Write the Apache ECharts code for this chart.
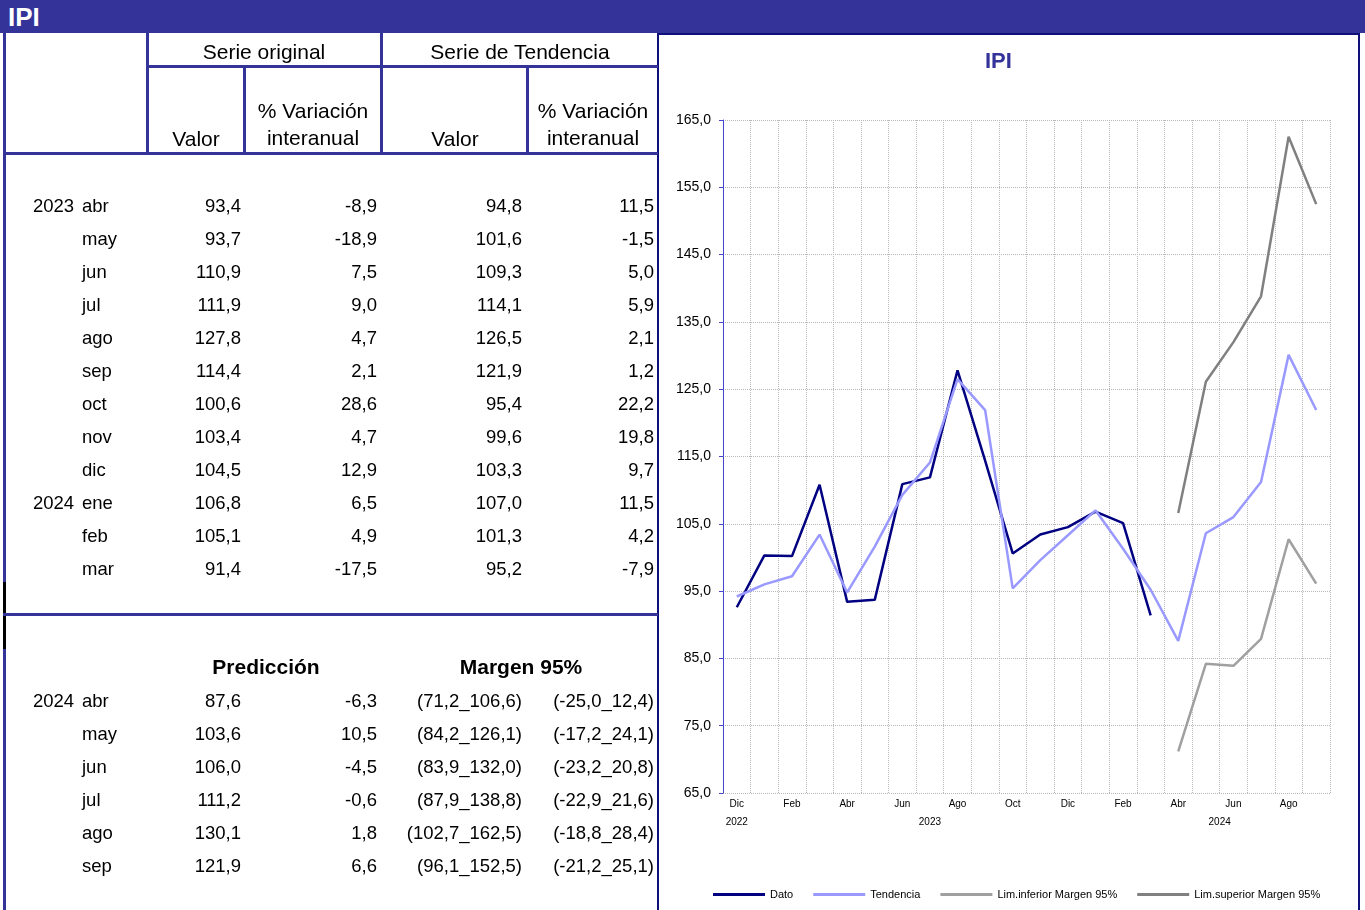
<!DOCTYPE html>
<html><head><meta charset="utf-8">
<script src="https://cdn.jsdelivr.net/npm/echarts@6/dist/echarts.min.js"></script>
<style>
html,body{margin:0;padding:0;background:#fff;width:1365px;height:910px;overflow:hidden;font-family:"Liberation Sans",Arial,sans-serif;}
#chart{position:absolute;left:0;top:0;width:1365px;height:910px;}
#overlay{position:absolute;left:0;top:0;width:1365px;height:910px;pointer-events:none;}
.t{position:absolute;white-space:nowrap;color:#000;height:30px;line-height:30px;}
.r{position:absolute;}
</style></head><body>
<div id="chart"></div>
<div id="overlay"></div>
<script>
// ---------- chart data ----------
const categories = ['Dic','Ene','Feb','Mar','Abr','May','Jun','Jul','Ago','Sep','Oct','Nov','Dic','Ene','Feb','Mar','Abr','May','Jun','Jul','Ago','Sep'];
const categoryYears = ['2022','2023','2023','2023','2023','2023','2023','2023','2023','2023','2023','2023','2023','2024','2024','2024','2024','2024','2024','2024','2024','2024'];
const dato = [92.6,100.3,100.2,110.8,93.4,93.7,110.9,111.9,127.8,114.4,100.6,103.4,104.5,106.8,105.1,91.4,null,null,null,null,null,null];
const tendencia = [94.2,96.0,97.2,103.4,94.8,101.6,109.3,114.1,126.5,121.9,95.4,99.6,103.3,107.0,101.3,95.2,87.6,103.6,106.0,111.2,130.1,121.9];
const limInferior = [null,null,null,null,null,null,null,null,null,null,null,null,null,null,null,null,71.2,84.2,83.9,87.9,102.7,96.1];
const limSuperior = [null,null,null,null,null,null,null,null,null,null,null,null,null,null,null,null,106.6,126.1,132.0,138.8,162.5,152.5];
const yTicks = [65,75,85,95,105,115,125,135,145,155,165];
const seriesNames = ['Dato','Tendencia','Lim.inferior Margen 95%','Lim.superior Margen 95%'];

// ---------- table data ----------
const tableYears = ['2023','','','','','','','','','2024','',''];
const tableMonths = ['abr','may','jun','jul','ago','sep','oct','nov','dic','ene','feb','mar'];
const origValor = [93.4,93.7,110.9,111.9,127.8,114.4,100.6,103.4,104.5,106.8,105.1,91.4];
const origVar = [-8.9,-18.9,7.5,9.0,4.7,2.1,28.6,4.7,12.9,6.5,4.9,-17.5];
const tendValor = [94.8,101.6,109.3,114.1,126.5,121.9,95.4,99.6,103.3,107.0,101.3,95.2];
const tendVar = [11.5,-1.5,5.0,5.9,2.1,1.2,22.2,19.8,9.7,11.5,4.2,-7.9];
const predYears = ['2024','','','','',''];
const predMonths = ['abr','may','jun','jul','ago','sep'];
const predValor = [87.6,103.6,106.0,111.2,130.1,121.9];
const predVar = [-6.3,10.5,-4.5,-0.6,1.8,6.6];
const margenInf = [71.2,84.2,83.9,87.9,102.7,96.1];
const margenSup = [106.6,126.1,132.0,138.8,162.5,152.5];
const margenVarInf = [-25.0,-17.2,-23.2,-22.9,-18.8,-21.2];
const margenVarSup = [12.4,24.1,20.8,21.6,28.4,25.1];

const FONT = '"Liberation Sans", Arial, sans-serif';
const fmt = v => v.toFixed(1).replace('.', ',');

// ---------- overlay (table) ----------
const ov = document.getElementById('overlay');
function rect(x, y, w, h, color, extra) {
  const d = document.createElement('div');
  d.className = 'r';
  d.style.left = x + 'px'; d.style.top = y + 'px';
  d.style.width = w + 'px'; d.style.height = h + 'px';
  if (color) d.style.background = color;
  if (extra) Object.assign(d.style, extra);
  ov.appendChild(d);
}
function text(str, x, y, align, size, bold, color) {
  const d = document.createElement('div');
  d.className = 't';
  d.textContent = str;
  d.style.fontSize = size + 'px';
  d.style.top = (y - 15) + 'px';
  if (bold) d.style.fontWeight = 'bold';
  if (color) d.style.color = color;
  if (align === 'left') d.style.left = x + 'px';
  else if (align === 'right') d.style.right = (1365 - x) + 'px';
  else { d.style.left = (x - 200) + 'px'; d.style.width = '400px'; d.style.textAlign = 'center'; }
  ov.appendChild(d);
}
const LINE = '#333399';
rect(0, 0, 1365, 33, LINE);
text('IPI', 8, 17, 'left', 26, true, '#fff');
// chart panel frame
rect(657, 33, 703, 890, null, {border: '2px solid #10107a', boxSizing: 'border-box'});
// table lines
rect(3, 33, 3, 877, LINE);
rect(3, 582, 3, 67, '#000');
rect(146, 33, 3, 122, LINE);
rect(380, 33, 3, 122, LINE);
rect(243, 66, 3, 89, LINE);
rect(526, 66, 3, 89, LINE);
rect(146, 65, 512, 3, LINE);
rect(3, 152, 655, 3, LINE);
rect(3, 613, 655, 3, LINE);

const HS = 21, DS = 18.5;
text('Serie original', 264, 52, 'center', HS);
text('Serie de Tendencia', 520, 52, 'center', HS);
text('Valor', 196, 139, 'center', HS);
text('% Variación', 313, 111, 'center', HS);
text('interanual', 313, 138, 'center', HS);
text('Valor', 455, 139, 'center', HS);
text('% Variación', 593, 111, 'center', HS);
text('interanual', 593, 138, 'center', HS);

tableMonths.forEach((m, i) => {
  const y = 206 + 33 * i;
  if (tableYears[i]) text(tableYears[i], 33, y, 'left', DS);
  text(m, 82, y, 'left', DS);
  text(fmt(origValor[i]), 241, y, 'right', DS);
  text(fmt(origVar[i]), 377, y, 'right', DS);
  text(fmt(tendValor[i]), 522, y, 'right', DS);
  text(fmt(tendVar[i]), 654, y, 'right', DS);
});
text('Predicción', 266, 667, 'center', HS, true);
text('Margen 95%', 521, 667, 'center', HS, true);
predMonths.forEach((m, i) => {
  const y = 701 + 33 * i;
  if (predYears[i]) text(predYears[i], 33, y, 'left', DS);
  text(m, 82, y, 'left', DS);
  text(fmt(predValor[i]), 241, y, 'right', DS);
  text(fmt(predVar[i]), 377, y, 'right', DS);
  text('(' + fmt(margenInf[i]) + '_' + fmt(margenSup[i]) + ')', 522, y, 'right', DS);
  text('(' + fmt(margenVarInf[i]) + '_' + fmt(margenVarSup[i]) + ')', 654, y, 'right', DS);
});

// ---------- chart ----------
const yearGroups = [];
categoryYears.forEach((y, i) => {
  const g = yearGroups[yearGroups.length - 1];
  if (g && g.year === y) g.count++; else yearGroups.push({year: y, first: i, count: 1});
});
const yearPos = yearGroups.map(g => g.first + (g.count > 1 ? (g.count + 1) / 2 : g.count / 2));

const chart = echarts.init(document.getElementById('chart'), null, {renderer: 'canvas'});
const colors = ['#000080', '#9999ff', '#a0a0a0', '#808080'];
const seriesData = [dato, tendencia, limInferior, limSuperior];
chart.setOption({
  animation: false,
  backgroundColor: 'transparent',
  textStyle: {fontFamily: FONT},
  title: {
    text: 'IPI', left: 980, top: 46,
    textStyle: {color: '#333399', fontSize: 22, fontWeight: 'bold', fontFamily: FONT}
  },
  legend: {
    left: 708, top: 884, itemWidth: 52, itemHeight: 3, itemGap: 20, icon: 'rect',
    data: seriesNames,
    textStyle: {fontSize: 11, color: '#000', fontFamily: FONT}
  },
  grid: {left: 723, top: 120, right: 35, bottom: 117, containLabel: false},
  xAxis: [{
    type: 'category', data: categories, boundaryGap: true,
    axisLine: {show: false}, axisTick: {show: false},
    axisLabel: {interval: 1, fontSize: 10, color: '#000', margin: 6, fontFamily: FONT},
    splitLine: {show: true, interval: 0, lineStyle: {color: '#b8b8b8', type: 'dotted', width: 1}}
  }, {
    type: 'value', min: 0, max: categories.length, position: 'bottom', offset: 18,
    axisLine: {show: false}, axisTick: {show: false}, splitLine: {show: false},
    axisLabel: {
      customValues: yearPos, fontSize: 10, color: '#000', margin: 6, fontFamily: FONT,
      showMinLabel: true, showMaxLabel: true,
      formatter: v => { const k = yearPos.findIndex(p => Math.abs(p - v) < 1e-6); return k >= 0 ? yearGroups[k].year : ''; }
    }
  }],
  yAxis: {
    type: 'value', min: yTicks[0], max: yTicks[yTicks.length - 1],
    axisLine: {show: true, lineStyle: {color: '#4444cc', width: 1}},
    axisTick: {show: true, length: 4, customValues: yTicks, lineStyle: {color: '#4444cc'}},
    axisLabel: {customValues: yTicks, fontSize: 14, color: '#000', margin: 12, fontFamily: FONT, formatter: v => fmt(v)},
    splitLine: {show: true, lineStyle: {color: '#b8b8b8', type: 'dotted', width: 1}}
  },
  series: seriesNames.map((n, i) => ({
    name: n, type: 'line', data: seriesData[i], xAxisIndex: 0,
    symbol: 'none', showSymbol: false, connectNulls: false,
    lineStyle: {color: colors[i], width: 2.5}, itemStyle: {color: colors[i]}
  }))
});
</script>
</body></html>
